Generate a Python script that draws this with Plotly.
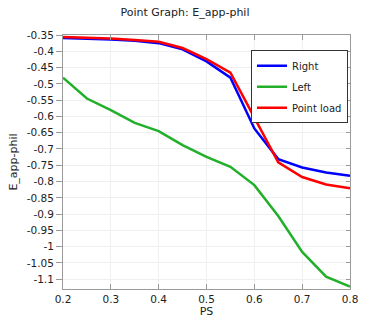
import plotly.graph_objects as go

# PS values along the x axis
ps = [0.2, 0.25, 0.3, 0.35, 0.4, 0.45, 0.5, 0.55, 0.6, 0.65, 0.7, 0.75, 0.8]

# E_app-phil for each case
right = [-0.359, -0.361, -0.364, -0.368, -0.375, -0.394, -0.431, -0.481, -0.637,
         -0.731, -0.757, -0.772, -0.782]
left = [-0.481, -0.545, -0.581, -0.620, -0.645, -0.688, -0.724, -0.755, -0.811,
        -0.906, -1.016, -1.092, -1.123]
point_load = [-0.356, -0.358, -0.361, -0.365, -0.371, -0.390, -0.424, -0.466, -0.605,
              -0.741, -0.786, -0.809, -0.821]

# tick labels (plain hyphen like the original, not the unicode minus)
x_ticks = [0.2, 0.3, 0.4, 0.5, 0.6, 0.7, 0.8]
x_labels = ['0.2', '0.3', '0.4', '0.5', '0.6', '0.7', '0.8']
y_ticks = [-0.35, -0.4, -0.45, -0.5, -0.55, -0.6, -0.65, -0.7, -0.75, -0.8,
           -0.85, -0.9, -0.95, -1.0, -1.05, -1.1]
y_labels = ['-0.35', '-0.4', '-0.45', '-0.5', '-0.55', '-0.6', '-0.65', '-0.7',
            '-0.75', '-0.8', '-0.85', '-0.9', '-0.95', '-1', '-1.05', '-1.1']

font = 'DejaVu Sans'
x_range = [0.2, 0.8]
y_range = [-1.13, -0.35]

fig = go.Figure()

series = [('Right', right, '#0000ff'),
          ('Left', left, '#22b02a'),
          ('Point load', point_load, '#ff0000')]
for name, vals, color in series:
    fig.add_trace(go.Scatter(x=ps, y=vals, mode='lines', name=name, legendgroup=name,
                             line=dict(color=color, width=2.5)))

# empty trace so the top/right frame axes get drawn
fig.add_trace(go.Scatter(x=[None], y=[None], xaxis='x2', yaxis='y2',
                         showlegend=False, hoverinfo='skip'))

axis_common = dict(showline=True, linecolor='#9a9a9a', linewidth=1,
                   tickcolor='#9a9a9a', tickfont=dict(family=font, size=10.5, color='#222'),
                   zeroline=False)

fig.update_layout(
    width=370, height=325,
    margin=dict(l=63, r=13, t=35, b=36),
    paper_bgcolor='white', plot_bgcolor='white',
    title=dict(text='Point Graph: E_app-phil', x=0.5, xanchor='center', y=0.963,
               yanchor='middle', font=dict(family=font, size=11, color='#222')),
    xaxis=dict(range=x_range, tickvals=x_ticks, ticktext=x_labels,
               ticks='inside', ticklen=5, showgrid=True, gridcolor='#efefef',
               title=dict(text='PS', standoff=0, font=dict(family=font, size=11, color='#222')),
               **axis_common),
    yaxis=dict(range=y_range, tickvals=y_ticks, ticktext=y_labels,
               ticks='outside', ticklen=6, showgrid=True, gridcolor='#efefef',
               title=dict(text='E_app-phil', standoff=6, font=dict(family=font, size=11, color='#222')),
               **axis_common),
    # top and right frame with inward ticks
    xaxis2=dict(range=x_range, tickvals=x_ticks, overlaying='x', anchor='y', side='top',
                ticks='inside', ticklen=5, showticklabels=False, showgrid=False,
                showline=True, linecolor='#9a9a9a', tickcolor='#9a9a9a', zeroline=False),
    yaxis2=dict(range=y_range, tickvals=y_ticks, overlaying='y', anchor='x', side='right',
                ticks='inside', ticklen=4, showticklabels=False, showgrid=False,
                showline=True, linecolor='#9a9a9a', tickcolor='#9a9a9a', zeroline=False),
    legend=dict(x=0.655, y=0.94, xanchor='left', yanchor='top',
                bgcolor='white', bordercolor='#333', borderwidth=1,
                font=dict(family=font, size=10, color='#222'),
                tracegroupgap=2, itemwidth=30),
    showlegend=True,
)

# drop the browser's default body margin so the figure sits at the page corner
fig.write_html('out.html', config={'displayModeBar': False},
               post_script="document.body.style.margin='0';")
